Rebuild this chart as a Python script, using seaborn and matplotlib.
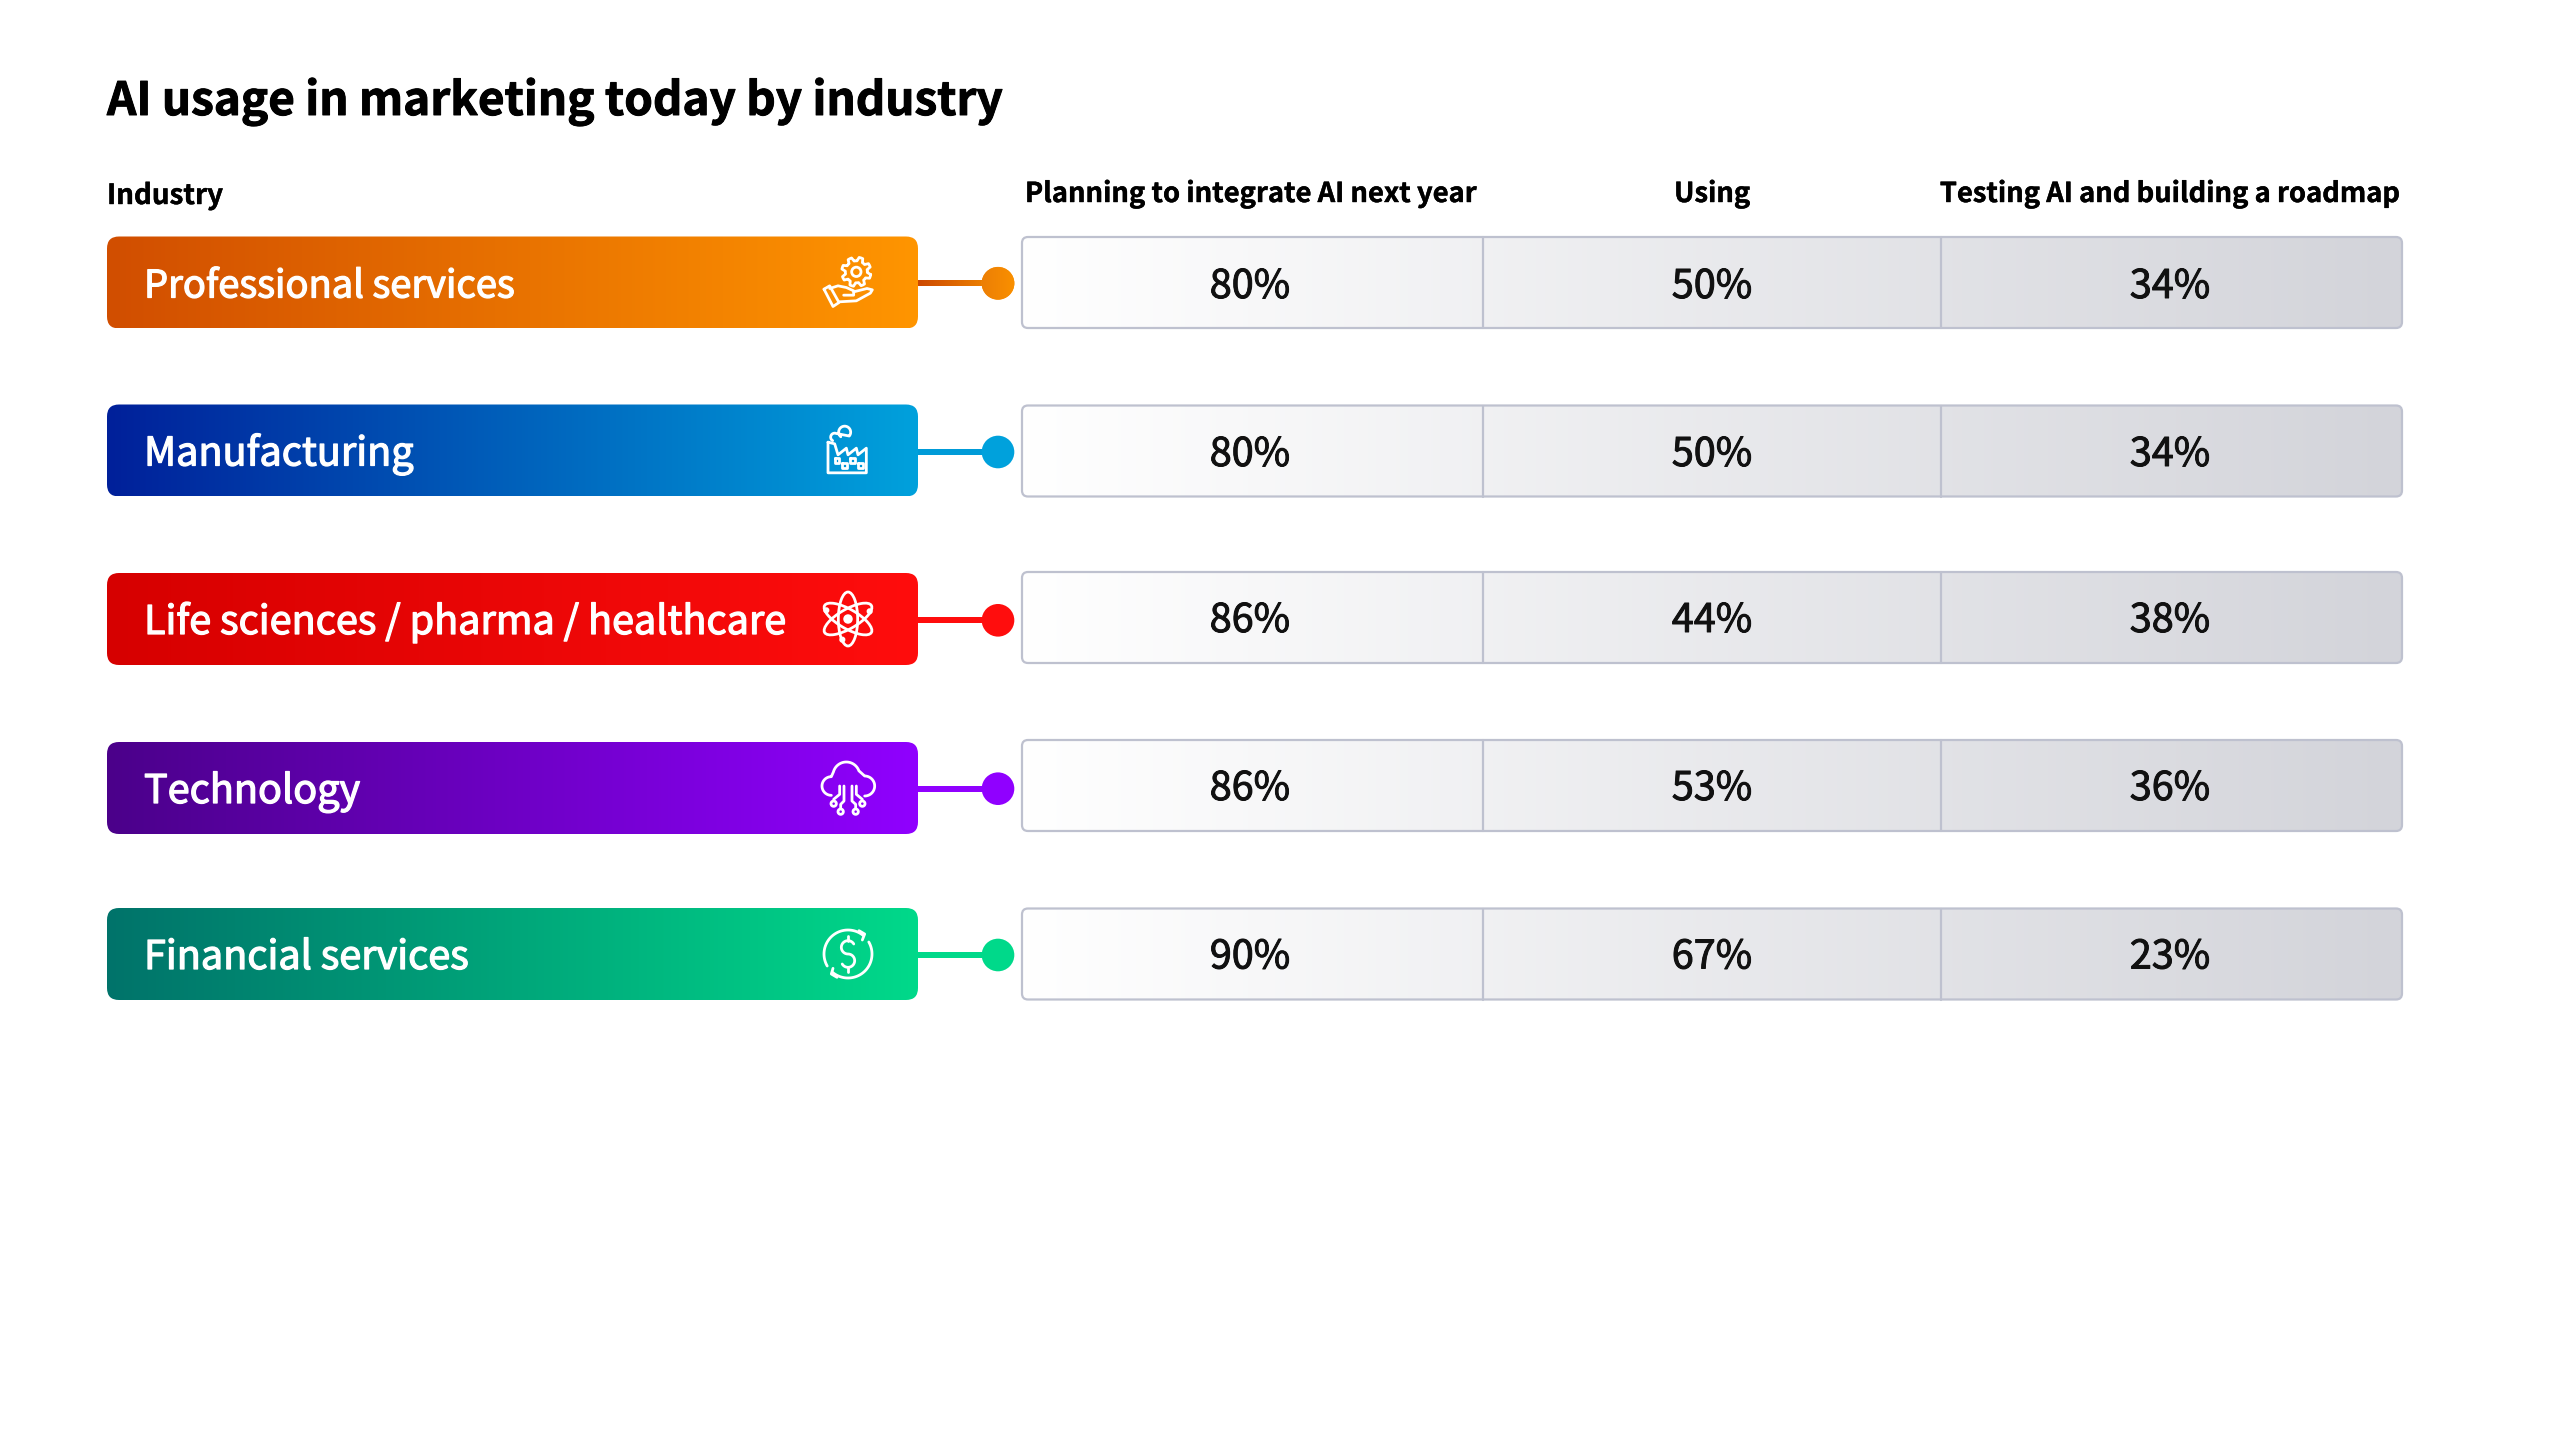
import numpy as np
import pandas as pd
import matplotlib
matplotlib.use("Agg")
import matplotlib.pyplot as plt
import matplotlib.patheffects as pe
import seaborn as sns
from matplotlib.colors import to_rgb
from matplotlib.patches import FancyBboxPatch, Circle, Ellipse, Rectangle

# Data
industries = ["Professional services", "Manufacturing", "Life sciences / pharma / healthcare",
              "Technology", "Financial services"]
columns = ["Planning to integrate AI next year", "Using", "Testing AI and building a roadmap"]
planning = [80, 80, 86, 86, 90]
using = [50, 50, 44, 53, 67]
testing = [34, 34, 38, 36, 23]
icons = ["hand_gear", "factory", "atom", "cloud", "dollar"]

# Colours
pill_left = ["#D14E00", "#00209A", "#D60000", "#4B008A", "#00736A"]
pill_right = ["#FF9500", "#00A1DC", "#FF0D0D", "#9000FF", "#00D98A"]
link_left = ["#CC4800", "#009BD8", "#FF0D0D", "#9000FF", "#00D98A"]
link_right = ["#F28A00", "#009BD8", "#FF0D0D", "#9000FF", "#00D98A"]
border = "#BEC1CF"

# Layout, in pixels of the 2560x1436 figure
pill_x0, pill_x1 = 107, 918
cell_x0, cell_x1 = 1022, 2402
dividers = [1483, 1941]
value_x = [1250, 1712, 2170]
header_x = [1251, 1712, 2170]
dot_x = 998
icon_x = 848
row_y = [282.5, 450.5, 619, 788, 954]
dot_y = [283.3, 452, 620.3, 788.7, 955]
cell_y = [282.5, 451, 617.5, 785.5, 954]
value_base = [298, 466, 632, 800, 968.5]
pill_size = [27.4, 28.5, 28.5, 28.5, 28.5]
pill_h = 92
cell_h = 91

sns.set_theme(style="white")
plt.rcParams["font.family"] = ["Noto Sans CJK SC", "DejaVu Sans"]

fig = plt.figure(figsize=(25.6, 14.36), dpi=100)
ax = fig.add_axes([0, 0, 1, 1])
ax.set_xlim(0, 2560)
ax.set_ylim(1436, 0)
ax.axis("off")


def gradient(x0, x1, y0, y1, left, right, clip, z):
    ramp = np.linspace(to_rgb(left), to_rgb(right), 256)[None, :, :]
    im = ax.imshow(ramp, extent=(x0, x1, y1, y0), aspect="auto",
                   interpolation="bilinear", zorder=z)
    im.set_clip_path(clip)


def line(pts, cx, cy):
    pts = np.array(pts, dtype=float) / 3
    ax.plot(cx + pts[:, 0], cy + pts[:, 1], color="white", lw=2, zorder=6,
            solid_capstyle="round", solid_joinstyle="round")


def arc(x, y, r, a0, a1):
    a = np.radians(np.linspace(a0, a1, 40))
    return np.column_stack([x + r * np.cos(a), y + r * np.sin(a)])


def ring(x, y, r, cx, cy, fill=False):
    ax.add_patch(Circle((cx + x / 3, cy + y / 3), r / 3, fc="white" if fill else "none",
                        ec="white", lw=2, zorder=6))


def hand_gear(cx, cy):
    a = np.radians(np.arange(0, 360, 7.5) + 11)
    r = np.where((np.arange(len(a)) % 6) < 3, 44, 33)
    line(np.column_stack([25 + r * np.cos(a), -32 + r * np.sin(a)]).tolist() + [[25 + r[0] * np.cos(a[0]), -32 + r[0] * np.sin(a[0])]], cx, cy)
    ring(25, -32, 14, cx, cy)
    line([[-72, 20], [-55, 10], [-27, 60], [-45, 72], [-72, 20]], cx, cy)
    line([[-55, 18], [-30, 10], [-5, 15], [17, 25], [17, 38], [-13, 38]], cx, cy)
    line([[17, 28], [57, 18], [73, 22], [67, 32], [25, 55], [-27, 58]], cx, cy)


def factory(cx, cy):
    line([[-60, -25], [-60, 67], [55, 67], [55, -7], [30, 13], [25, -7], [0, 13], [-5, -7],
          [-30, 13], [-40, -20], [-60, -25]], cx, cy)
    line(arc(-10, -55, 18, 130, 400).tolist() + arc(-40, -40, 12, 290, 120).tolist(), cx, cy)
    for wx, wy in [(-33, 29), (-10, 45), (13, 29), (38, 45)]:
        line([[wx - 7, wy - 7], [wx + 7, wy - 7], [wx + 7, wy + 7], [wx - 7, wy + 7], [wx - 7, wy - 7]], cx, cy)


def atom(cx, cy):
    for angle in [90, 30, 150]:
        ax.add_patch(Ellipse((cx, cy), 162 / 3, 58 / 3, angle=angle, fc="none", ec="white",
                             lw=2, zorder=6))
    ring(0, 0, 10, cx, cy, fill=True)
    for x, y in [(-65, -26), (65, -23), (-17, 62)]:
        ring(x, y, 5, cx, cy, fill=True)


def cloud(cx, cy):
    line(arc(-50, -6, 28, 90, 270).tolist() + arc(-5, -38, 40, 195, 340).tolist()
         + arc(50, -6, 30, 270, 450).tolist(), cx, cy)
    line([[-25, -6], [-25, 19], [-43, 34]], cx, cy)
    line([[-12, -6], [-12, 39], [-22, 49], [-22, 62]], cx, cy)
    line([[12, -6], [12, 39], [23, 49], [23, 62]], cx, cy)
    line([[25, -6], [25, 19], [43, 34]], cx, cy)
    for x, y in [(-43, 47), (-22, 71), (23, 71), (43, 47)]:
        ring(x, y, 8, cx, cy)


def dollar(cx, cy):
    line(arc(0, 0, 72, 310, 150), cx, cy)
    line(arc(0, 0, 72, 130, -30), cx, cy)
    line([[33, -70], [50, -60], [43, -42]], cx, cy)
    line([[-33, 70], [-50, 60], [-45, 43]], cx, cy)
    line(arc(0, -20, 20, -30, -270).tolist() + arc(0, 20, 20, -90, 150).tolist(), cx, cy)
    line([[0, -53], [0, -40]], cx, cy)
    line([[0, 40], [0, 53]], cx, cy)


draw_icon = {"hand_gear": hand_gear, "factory": factory, "atom": atom, "cloud": cloud, "dollar": dollar}

# Dots go through seaborn, on top of the connectors
dots = pd.DataFrame({"industry": industries, "x": [dot_x] * 5, "y": dot_y})
sns.scatterplot(data=dots, x="x", y="y", hue="industry", palette=pill_right, s=552, linewidth=0,
                legend=False, zorder=4, ax=ax)
ax.set_xlim(0, 2560)
ax.set_ylim(1436, 0)
ax.axis("off")

values = pd.DataFrame({columns[0]: planning, columns[1]: using, columns[2]: testing}, index=industries)

for i, name in enumerate(industries):
    y = row_y[i]
    # coloured label
    box = FancyBboxPatch((pill_x0, y - pill_h / 2), pill_x1 - pill_x0, pill_h,
                         boxstyle="round,pad=0,rounding_size=12", fc="none", ec="none")
    ax.add_patch(box)
    gradient(pill_x0, pill_x1, y - pill_h / 2, y + pill_h / 2, pill_left[i], pill_right[i], box, 2)
    ax.text(144, y + 15, name, color="white", fontsize=pill_size[i], va="baseline", zorder=6,
            path_effects=[pe.withStroke(linewidth=0.9, foreground="white")])
    draw_icon[icons[i]](icon_x, y)

    # connector
    yd = dot_y[i]
    rect = Rectangle((pill_x1, yd - 3), dot_x - pill_x1, 6, fc="none", ec="none")
    ax.add_patch(rect)
    gradient(pill_x1, dot_x, yd - 3, yd + 3, link_left[i], link_right[i], rect, 3)

    # value cells
    yc = cell_y[i]
    cell = FancyBboxPatch((cell_x0, yc - cell_h / 2), cell_x1 - cell_x0, cell_h,
                          boxstyle="round,pad=0,rounding_size=6", fc="none", ec=border, lw=1.6, zorder=3)
    ax.add_patch(cell)
    gradient(cell_x0, cell_x1, yc - cell_h / 2, yc + cell_h / 2, "#FFFFFF", "#D3D4DA", cell, 2)
    for dx in dividers:
        ax.plot([dx, dx], [yc - cell_h / 2, yc + cell_h / 2], color=border, lw=1.6, zorder=3)
    for xc, col in zip(value_x, columns):
        ax.text(xc, value_base[i], f"{values.loc[name, col]}%", color="#111111", fontsize=28.5,
                ha="center", va="baseline", zorder=6,
                path_effects=[pe.withStroke(linewidth=0.7, foreground="#111111")])

# Orange dot carries a slight gradient of its own
dot = Circle((dot_x, dot_y[0]), 16.4, fc="none", ec="none")
ax.add_patch(dot)
gradient(dot_x - 17, dot_x + 17, dot_y[0] - 17, dot_y[0] + 17, "#EC7E05", "#FA9000", dot, 5)

ax.set_xlim(0, 2560)
ax.set_ylim(1436, 0)

ax.text(107, 115, "AI usage in marketing today by industry", fontsize=33, fontweight="bold",
        color="black", va="baseline", path_effects=[pe.withStroke(linewidth=0.7, foreground="black")])
ax.text(107, 204, "Industry", fontsize=20, fontweight="bold", color="black", va="baseline",
        path_effects=[pe.withStroke(linewidth=0.3, foreground="black")])
for xc, col in zip(header_x, columns):
    ax.text(xc, 202, col, fontsize=19.7, fontweight="bold", color="black", ha="center", va="baseline",
            path_effects=[pe.withStroke(linewidth=0.3, foreground="black")])

fig.savefig("out.png", dpi=100, facecolor="white")
